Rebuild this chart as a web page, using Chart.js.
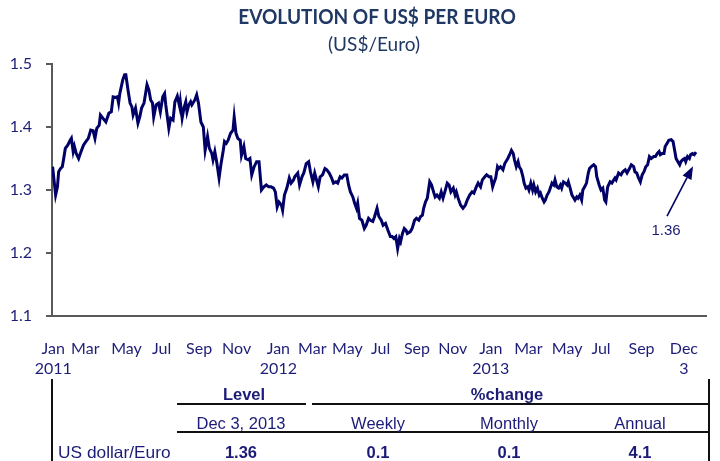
<!DOCTYPE html>
<html><head><meta charset="utf-8">
<script src="https://cdn.jsdelivr.net/npm/chart.js@4.4.0/dist/chart.umd.min.js"></script>
<style>
html,body{margin:0;padding:0;background:#fff;}
#wrap{position:relative;width:720px;height:461px;overflow:hidden;background:#fff;}
#c{position:absolute;left:0;top:0;}
.ttl{position:absolute;font-family:Lato,"Open Sans",sans-serif;color:#1F3864;white-space:nowrap;line-height:1;}
.vl{position:absolute;width:2px;background:#111;top:379px;height:90px;}
.hl{position:absolute;height:2px;background:#111;}
.t{position:absolute;font-family:"Liberation Sans",Arial,sans-serif;font-size:16.5px;color:#1C1C78;white-space:nowrap;transform:translate(-50%,-50%);line-height:1;}
.b{font-weight:bold;}
</style></head>
<body>
<div id="wrap">
<canvas id="c" width="720" height="461"></canvas>
<div id="hdr"></div>
<div id="tbl"></div>
</div>
<script>
// ---- DATA ----
const titleText = "EVOLUTION OF US$ PER EURO";
const subtitleText = "(US$/Euro)";
// calendar days since 3 Jan 2011
const days = [
  1,6,9,11,14,17,19,22,26,30,
  32,35,37,40,44,48,52,56,60,64,
  68,71,74,78,80,84,89,94,98,101,
  105,108,110,112,117,120,122,126,129,132,
  134,138,142,145,148,152,157,160,163,166,
  168,172,176,179,183,186,188,193,196,200,
  203,207,211,212,215,218,221,223,226,229,
  231,236,239,242,246,250,253,257,260,264,
  266,269,272,276,279,283,285,288,291,295,
  299,301,304,307,311,313,317,320,324,327,
  330,334,338,342,346,350,354,358,362,366,
  369,372,375,379,381,384,388,392,395,399,
  401,406,409,413,416,420,424,427,431,434,
  437,440,443,447,451,454,458,462,465,469,
  472,476,479,483,487,490,493,497,500,503,
  505,508,512,516,519,523,526,530,533,537,
  540,544,547,551,555,559,562,565,568,571,
  574,576,579,582,585,587,592,595,599,602,
  606,609,612,614,617,620,622,624,627,631,
  633,636,640,643,646,649,653,656,659,663,
  666,668,671,675,679,683,686,690,694,697,
  701,704,708,711,715,718,722,725,728,730,
  733,736,738,741,745,748,753,756,759,762,
  764,767,770,772,775,778,780,783,786,788,
  791,794,796,799,802,805,807,810,813,815,
  818,821,824,826,829,831,834,837,840,842,
  845,848,851,853,856,859,861,864,867,869,
  872,875,877,880,883,886,888,891,895,898,
  900,904,907,910,913,915,918,922,925,930,
  932,936,940,943,947,950,954,957,961,963,
  966,969,972,975,978,981,984,987,990,994,
  997,1000,1003,1005,1008,1011,1013,1016,1019,1023,
  1026,1029,1031,1034,1037,1039,1042,1045,1047,1050,
  1053,1055,1058,1061,1064
];
const usdPerEuro = [
  1.337,1.292,1.305,1.329,1.334,1.337,1.348,1.366,1.371,1.379,
  1.382,1.361,1.369,1.358,1.350,1.361,1.371,1.377,1.382,1.395,
  1.394,1.382,1.398,1.403,1.419,1.414,1.408,1.422,1.424,1.448,
  1.447,1.448,1.438,1.453,1.475,1.483,1.483,1.456,1.438,1.432,
  1.419,1.430,1.406,1.416,1.430,1.438,1.467,1.459,1.443,1.438,
  1.416,1.435,1.438,1.424,1.448,1.453,1.435,1.398,1.414,1.411,
  1.440,1.449,1.432,1.440,1.414,1.430,1.440,1.424,1.435,1.440,
  1.435,1.443,1.451,1.438,1.408,1.400,1.363,1.385,1.366,1.358,
  1.348,1.361,1.345,1.319,1.340,1.363,1.377,1.374,1.379,1.390,
  1.395,1.416,1.390,1.382,1.379,1.355,1.369,1.350,1.348,1.350,
  1.324,1.337,1.345,1.345,1.300,1.305,1.308,1.305,1.305,1.303,
  1.297,1.273,1.281,1.276,1.268,1.292,1.303,1.319,1.311,1.316,
  1.321,1.327,1.308,1.321,1.327,1.342,1.345,1.329,1.313,1.327,
  1.316,1.305,1.321,1.324,1.334,1.332,1.327,1.319,1.311,1.313,
  1.311,1.321,1.319,1.324,1.324,1.308,1.297,1.289,1.279,1.271,
  1.279,1.255,1.252,1.239,1.244,1.255,1.252,1.250,1.258,1.271,
  1.258,1.252,1.244,1.247,1.236,1.226,1.226,1.223,1.226,1.207,
  1.223,1.218,1.231,1.239,1.236,1.231,1.234,1.239,1.252,1.255,
  1.252,1.258,1.260,1.271,1.281,1.287,1.300,1.313,1.308,1.295,
  1.289,1.292,1.287,1.297,1.287,1.297,1.311,1.308,1.297,1.303,
  1.292,1.297,1.287,1.276,1.271,1.276,1.284,1.292,1.297,1.295,
  1.305,1.311,1.305,1.316,1.321,1.324,1.321,1.321,1.305,1.311,
  1.319,1.337,1.334,1.337,1.332,1.342,1.350,1.356,1.363,1.358,
  1.348,1.337,1.345,1.337,1.332,1.321,1.311,1.303,1.305,1.300,
  1.311,1.300,1.308,1.297,1.303,1.292,1.295,1.287,1.281,1.284,
  1.292,1.297,1.305,1.311,1.308,1.316,1.305,1.303,1.308,1.303,
  1.313,1.311,1.308,1.313,1.303,1.292,1.289,1.284,1.289,1.287,
  1.292,1.284,1.300,1.305,1.311,1.327,1.334,1.337,1.340,1.337,
  1.321,1.308,1.300,1.303,1.284,1.281,1.305,1.313,1.311,1.319,
  1.316,1.327,1.324,1.329,1.332,1.327,1.334,1.340,1.337,1.329,
  1.327,1.319,1.313,1.324,1.329,1.337,1.340,1.353,1.350,1.353,
  1.353,1.358,1.361,1.356,1.358,1.358,1.369,1.374,1.379,1.380,
  1.377,1.361,1.350,1.345,1.340,1.345,1.348,1.350,1.345,1.353,
  1.350,1.356,1.358,1.356,1.360
];
const tickDays = [2,55,123,181,243,305,374,430,488,543,603,662,725,787,851,907,974,1044];
const tickLabels = [["Jan","2011"],"Mar","May","Jul","Sep","Nov",["Jan","2012"],"Mar","May","Jul","Sep","Nov",["Jan","2013"],"Mar","May","Jul","Sep",["Dec","3"]];
const yTicks = [1.1,1.2,1.3,1.4,1.5];
const annotationText = "1.36";
const tableHeader = ["Level","%change"];
const tableSubHeader = ["Dec 3, 2013","Weekly","Monthly","Annual"];
const tableRowLabel = "US dollar/Euro";
const tableRowValues = ["1.36","0.1","0.1","4.1"];

// ---- TITLE ----
(function(){
  const hdr = document.getElementById('hdr');
  const t = document.createElement('div');
  t.className = 'ttl';
  t.textContent = titleText;
  t.style.cssText = 'left:377px;top:15.5px;font-size:20.5px;font-weight:bold;transform:translate(-50%,-50%) scaleX(0.93);';
  hdr.appendChild(t);
  const s = document.createElement('div');
  s.className = 'ttl';
  s.textContent = subtitleText;
  s.style.cssText = 'left:374px;top:43px;font-size:19px;transform:translate(-50%,-50%);';
  hdr.appendChild(s);
})();

// ---- TABLE ----
(function(){
  const tbl = document.getElementById('tbl');
  const add = (html) => tbl.insertAdjacentHTML('beforeend', html);
  add('<div class="vl" style="left:51px"></div>');
  add('<div class="vl" style="left:708px"></div>');
  add('<div class="hl" style="left:177px;width:129px;top:403px"></div>');
  add('<div class="hl" style="left:312px;width:398px;top:403px"></div>');
  add('<div class="hl" style="left:177px;width:533px;top:431px"></div>');
  const hx = [244, 507];
  tableHeader.forEach((s,i)=>add(`<div class="t b" style="left:${hx[i]}px;top:394px">${s}</div>`));
  const cx = [241, 378, 509, 640];
  tableSubHeader.forEach((s,i)=>add(`<div class="t" style="left:${cx[i]}px;top:423px">${s}</div>`));
  add(`<div class="t" style="left:58px;top:452px;transform:translate(0,-50%) scaleX(1.05);transform-origin:left center">${tableRowLabel}</div>`);
  tableRowValues.forEach((s,i)=>add(`<div class="t b" style="left:${cx[i]}px;top:452px">${s}</div>`));
})();

// ---- CHART ----
const navy = '#000066';
const tickColor = '#1E1E78';
const axisColor = '#595959';

const arrowPlugin = {
  id: 'lastValueArrow',
  afterDatasetsDraw(chart) {
    const {ctx, scales:{x, y}} = chart;
    const i = days.length - 1;
    const px = x.getPixelForValue(days[i]);
    const py = y.getPixelForValue(usdPerEuro[i]);
    const tipX = px - 3, tipY = py + 14;
    const tailX = px - 29, tailY = py + 64;
    const ang = Math.atan2(tipY - tailY, tipX - tailX);
    const hl = 13, hw = 5;
    const bx = tipX - hl*Math.cos(ang), by = tipY - hl*Math.sin(ang);
    ctx.save();
    ctx.strokeStyle = navy; ctx.fillStyle = navy; ctx.lineWidth = 1.6;
    ctx.beginPath(); ctx.moveTo(tailX, tailY); ctx.lineTo(bx, by); ctx.stroke();
    ctx.beginPath();
    ctx.moveTo(tipX, tipY);
    ctx.lineTo(bx + hw*Math.sin(ang), by - hw*Math.cos(ang));
    ctx.lineTo(bx - hw*Math.sin(ang), by + hw*Math.cos(ang));
    ctx.closePath(); ctx.fill();
    ctx.fillStyle = '#1C1C78';
    ctx.font = '15px "Liberation Sans", Arial, sans-serif';
    ctx.textAlign = 'center'; ctx.textBaseline = 'middle';
    ctx.fillText(annotationText, px - 30, py + 79);
    ctx.restore();
  }
};

new Chart(document.getElementById('c'), {
  type: 'line',
  data: {
    datasets: [{
      data: days.map((d, i) => ({x: d, y: usdPerEuro[i]})),
      borderColor: navy,
      borderWidth: 3,
      pointRadius: 0,
      tension: 0,
      fill: false
    }]
  },
  options: {
    responsive: false,
    animation: false,
    layout: {padding: {left: 0, right: 0, top: 64, bottom: 81}},
    plugins: {
      legend: {display: false},
      tooltip: {enabled: false},
      title: {display: false},
      subtitle: {display: false}
    },
    scales: {
      x: {
        type: 'linear', min: 0, max: 1081,
        afterBuildTicks: s => { s.ticks = tickDays.map(v => ({value: v})); },
        afterFit: s => { s.height = 64; },
        grid: {display: false, drawTicks: false},
        border: {display: true, color: axisColor, width: 2},
        ticks: {autoSkip: false, maxRotation: 0, minRotation: 0, padding: 22, color: tickColor,
          font: {family: 'Lato', size: 16, lineHeight: 1.3},
          callback: (v, i) => tickLabels[i]}
      },
      y: {
        min: 1.1, max: 1.5,
        afterBuildTicks: s => { s.ticks = yTicks.map(v => ({value: v})); },
        afterFit: s => { s.width = 52; },
        grid: {drawOnChartArea: false, drawTicks: true, tickLength: 6, color: axisColor, lineWidth: 2},
        border: {display: true, color: axisColor, width: 2},
        ticks: {padding: 14, color: tickColor, font: {family: 'Lato', size: 16},
          callback: v => v.toFixed(1)}
      }
    }
  },
  plugins: [arrowPlugin]
});
</script>
</body></html>
